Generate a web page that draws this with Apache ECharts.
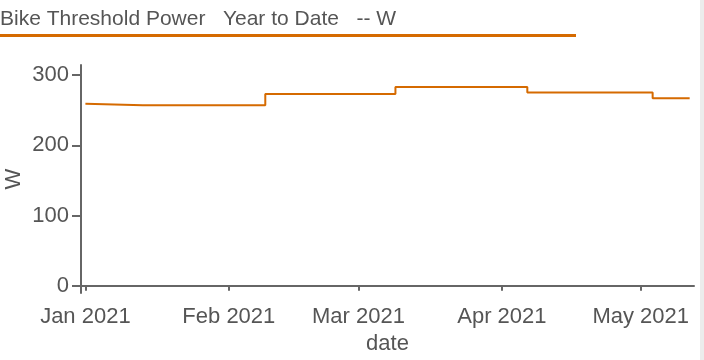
<!DOCTYPE html>
<html>
<head>
<meta charset="utf-8">
<script src="https://cdn.jsdelivr.net/npm/echarts@6/dist/echarts.min.js"></script>
<style>html,body{margin:0;padding:0;background:#fff}#c{width:704px;height:360px}</style>
</head>
<body>
<div id="c"></div>
<script>
// Data (step vertices)
const dates  = ['2021-01-01T00:00','2021-01-13T10:00','2021-02-08T21:00','2021-02-08T21:00','2021-03-09T00:00','2021-03-09T00:00','2021-04-06T12:00','2021-04-06T12:00','2021-05-03T14:00','2021-05-03T14:00','2021-05-11T14:00'];
const watts  = [259, 257, 257, 273, 273, 283, 283, 275, 275, 267, 267];
const xTicks = ['2021-01-01T00:00','2021-02-01T00:00','2021-03-01T00:00','2021-04-01T00:00','2021-05-01T00:00'];
const yTicks = [0, 100, 200, 300];
const titleText = 'Bike Threshold Power   Year to Date   -- W';

const ORANGE = '#d56a00';
const AXIS = '#666666';
const TXT = '#555555';
const FONT = '"Liberation Sans", Arial, Helvetica, sans-serif';
const ts = s => new Date(s + ':00Z').getTime();
const monthNames = ['Jan','Feb','Mar','Apr','May','Jun','Jul','Aug','Sep','Oct','Nov','Dec'];

const chart = echarts.init(document.getElementById('c'), null, {renderer: 'canvas'});
chart.setOption({
  animation: false,
  title: {
    text: titleText, left: 0, top: 9, padding: 0,
    textStyle: {fontFamily: FONT, fontSize: 21, fontWeight: 'normal', color: TXT}
  },
  graphic: [
    {type: 'rect', shape: {x: 0, y: 34, width: 576, height: 3}, style: {fill: ORANGE}},
    {type: 'rect', shape: {x: 700, y: 0, width: 4, height: 360}, style: {fill: '#ececec'}}
  ],
  grid: {left: 81, right: 10, top: 65, bottom: 67, containLabel: false, outerBoundsMode: 'none'},
  xAxis: {
    type: 'value',
    min: ts('2020-12-31T01:12'),
    max: ts('2021-05-12T12:30'),
    name: 'date', nameLocation: 'middle', nameGap: 40, nameMoveOverlap: false,
    nameTextStyle: {fontFamily: FONT, fontSize: 22, color: TXT},
    axisLine: {lineStyle: {color: AXIS, width: 2}},
    axisTick: {show: true, length: 5, lineStyle: {color: AXIS, width: 2}, customValues: xTicks.map(ts)},
    axisLabel: {
      fontFamily: FONT, fontSize: 22, color: TXT, margin: 13,
      customValues: xTicks.map(ts),
      formatter: v => { const d = new Date(v); return monthNames[d.getUTCMonth()] + ' ' + d.getUTCFullYear(); }
    },
    splitLine: {show: false}
  },
  yAxis: {
    type: 'value', min: -10.3, max: 314.3,
    name: 'W', nameLocation: 'middle', nameGap: 56, nameRotate: 90, nameMoveOverlap: false,
    nameTextStyle: {fontFamily: FONT, fontSize: 22, color: TXT},
    axisLine: {show: true, lineStyle: {color: AXIS, width: 2}},
    axisTick: {show: true, length: 9, lineStyle: {color: AXIS, width: 2}, customValues: yTicks},
    axisLabel: {fontFamily: FONT, fontSize: 22, color: TXT, margin: 12, customValues: yTicks},
    splitLine: {show: false}
  },
  series: [{
    type: 'line',
    data: dates.map((d, i) => [ts(d), watts[i]]),
    showSymbol: false,
    lineStyle: {color: ORANGE, width: 2},
    itemStyle: {color: ORANGE}
  }]
});
</script>
</body>
</html>
